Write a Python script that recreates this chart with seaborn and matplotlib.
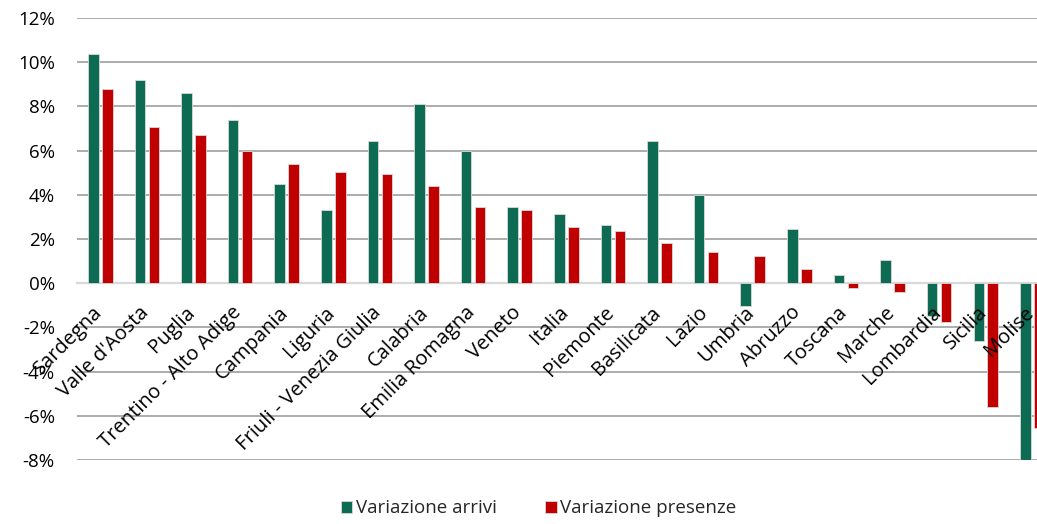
import numpy as np
import pandas as pd
import matplotlib
matplotlib.use("Agg")
import matplotlib.pyplot as plt
import matplotlib.transforms as mtransforms
import seaborn as sns
from matplotlib.ticker import FuncFormatter

regioni = ["Sardegna", "Valle d'Aosta", "Puglia", "Trentino - Alto Adige", "Campania",
           "Liguria", "Friuli - Venezia Giulia", "Calabria", "Emilia Romagna", "Veneto",
           "Italia", "Piemonte", "Basilicata", "Lazio", "Umbria", "Abruzzo", "Toscana",
           "Marche", "Lombardia", "Sicilia", "Molise"]
variazione_arrivi = [10.35, 9.2, 8.6, 7.4, 4.47, 3.3, 6.44, 8.13, 6.0, 3.44,
                     3.14, 2.65, 6.44, 4.01, -1.04, 2.44, 0.36, 1.05, -1.48, -2.62, -8.07]
variazione_presenze = [8.8, 7.07, 6.7, 6.0, 5.38, 5.04, 4.92, 4.39, 3.45, 3.33,
                       2.55, 2.38, 1.81, 1.43, 1.25, 0.65, -0.2, -0.41, -1.76, -5.62, -6.53]
serie = ["Variazione arrivi", "Variazione presenze"]
colori = ["#0C6B52", "#C00000"]
y_ticks = [-8, -6, -4, -2, 0, 2, 4, 6, 8, 10, 12]

df = pd.DataFrame({
    "Regione": regioni * 2,
    "Valore": variazione_arrivi + variazione_presenze,
    "Serie": [serie[0]] * len(regioni) + [serie[1]] * len(regioni),
})

sns.set_theme(style="white")
plt.rcParams["font.family"] = ["Open Sans", "DejaVu Sans"]

fig = plt.figure(figsize=(10.37, 5.24), dpi=100)
ax = fig.add_axes([77 / 1037, (524 - 460) / 524, 1 - 77 / 1037, (460 - 18) / 524])

sns.barplot(data=df, x="Regione", y="Valore", hue="Serie", order=regioni,
            hue_order=serie, palette=colori, width=0.6, gap=0.25,
            edgecolor="#d9d9d9", linewidth=0.6, saturation=1, ax=ax, zorder=3)

ax.set_ylim(-8, 12)
ax.set_xlim(-0.5, 20.1)
ax.set_yticks(y_ticks)
ax.yaxis.set_major_formatter(FuncFormatter(lambda v, p: f"{int(v)}%"))
ax.yaxis.grid(True, color="#A6A6A6", linewidth=1.3, zorder=0)
ax.set_axisbelow(True)
for s in ["top", "right", "left"]:
    ax.spines[s].set_visible(False)
ax.spines["bottom"].set_position(("data", 0))
ax.spines["bottom"].set_color("#D9D9D9")
ax.spines["bottom"].set_linewidth(1.6)
ax.spines["bottom"].set_zorder(2)
ax.xaxis.set_zorder(5)
ax.set_xlabel("")
ax.set_ylabel("")
ax.tick_params(axis="y", length=0, pad=16, labelsize=13.5, labelcolor="#000000")
ax.tick_params(axis="x", length=0, pad=14, labelsize=14.5, labelcolor="#000000")
shift = mtransforms.ScaledTranslation(-6 / 72, 0, fig.dpi_scale_trans)
for lab in ax.get_xticklabels():
    lab.set_rotation(45)
    lab.set_ha("right")
    lab.set_va("top")
    lab.set_rotation_mode("anchor")
    lab.set_transform(lab.get_transform() + shift)

handles, labels = ax.get_legend_handles_labels()
ax.legend(handles, labels, loc="center", bbox_to_anchor=(0.481, -0.109), ncol=2,
          frameon=False, fontsize=13.5, handlelength=0.6, handleheight=0.6,
          handletextpad=0.2, columnspacing=2.6)

fig.savefig("out.png", dpi=100)
